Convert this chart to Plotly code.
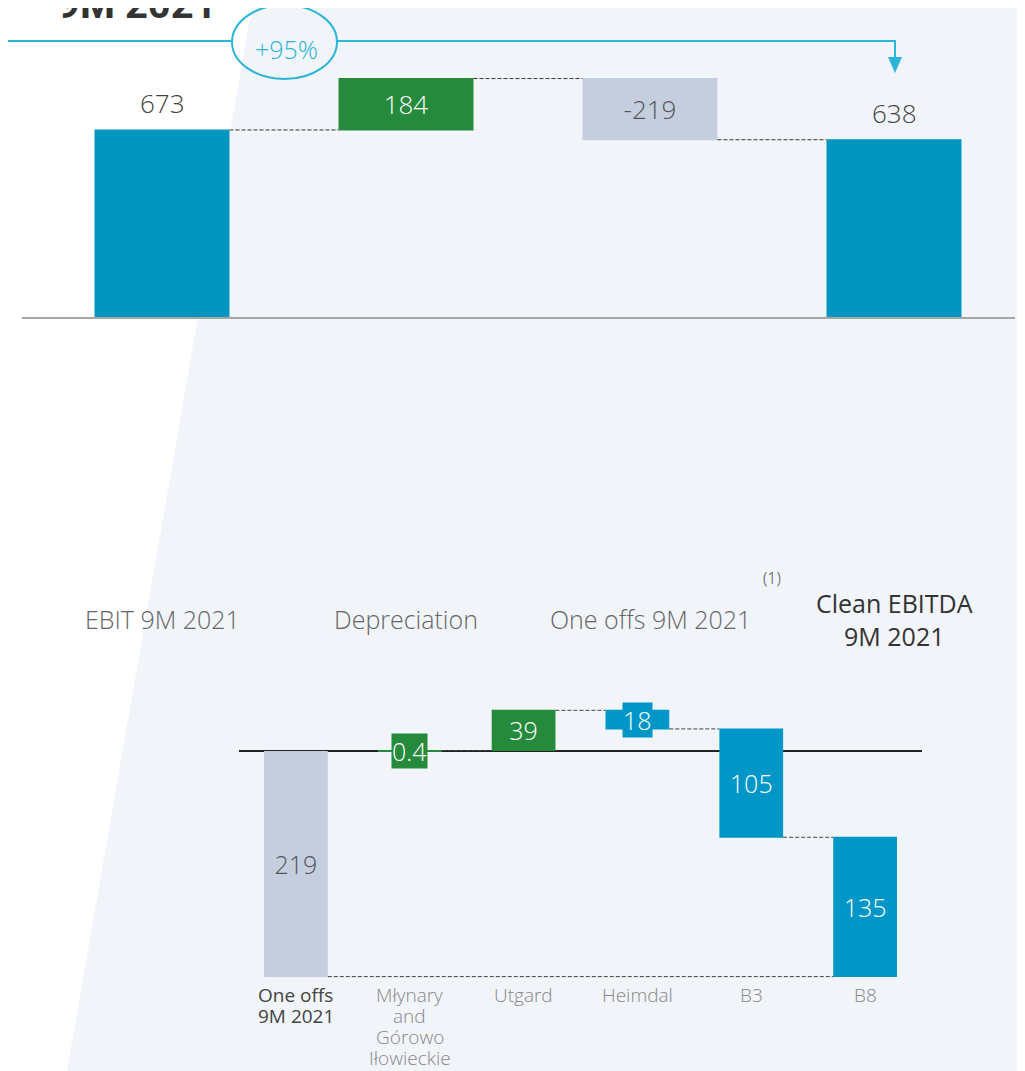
"""EBIT to clean EBITDA bridge (9M 2021) with one-offs breakdown, as two waterfalls."""
import plotly.graph_objects as go

W, H = 1025, 1071
OFF = 8  # page body margin around the plot div

# top bridge
top_categories = ["EBIT 9M 2021", "Depreciation", "One offs 9M 2021", "Clean EBITDA<br>9M 2021"]
top_measures = ["absolute", "relative", "relative", "total"]
top_values = [673, 184, -219, 638]
top_labels = ["673", "184", "-219", "638"]
growth_label = "+95%"

# one offs breakdown
bottom_categories = ["One offs<br>9M 2021", "Młynary<br>and<br>Górowo<br>Iłowieckie",
                     "Utgard", "Heimdal", "B3", "B8"]
bottom_values = [-219, 0.4, 39, -18, -105, -135]
bottom_labels = ["219", "0.4", "39", "18", "105", "135"]

BLUE = "#0096BF"
GREEN = "#268A3D"
GREY = "#C4CEDF"
CYAN = "#2BB5D9"
FONT = "Open Sans"
FW, FH = W - OFF, H - OFF


def px(p):
    return (p - OFF) / FW


def py(p):
    return 1 - (p - OFF) / FH


fig = go.Figure()

fig.add_trace(go.Waterfall(
    x=top_categories, y=top_values, measure=top_measures,
    text=top_labels,
    textposition=["none" if m != "relative" else "inside" for m in top_measures],
    textfont=dict(family=FONT, size=26, color=["#444", "white", "#555", "#444"], weight=300),
    insidetextanchor="middle",
    increasing=dict(marker=dict(color=GREEN)),
    decreasing=dict(marker=dict(color=GREY)),
    totals=dict(marker=dict(color=BLUE)),
    connector=dict(line=dict(color="#333", width=1, dash="4px,2px")),
    width=0.553, cliponaxis=False, hoverinfo="x+y",
    xaxis="x", yaxis="y",
))

# first bar of the breakdown is the total, the rest start again from zero
fig.add_trace(go.Bar(
    x=bottom_categories[:1], y=bottom_values[:1],
    text=bottom_labels[:1], textposition="inside", insidetextanchor="middle",
    textfont=dict(family=FONT, size=25, color="#555", weight=300),
    marker=dict(color=GREY, line=dict(width=0)),
    width=0.56, xaxis="x2", yaxis="y2",
))

small = [abs(v) < 25 for v in bottom_values[1:]]
fig.add_trace(go.Waterfall(
    x=bottom_categories[1:], y=bottom_values[1:],
    measure=["relative"] * (len(bottom_values) - 1), base=0,
    text=bottom_labels[1:],
    textposition=["none" if s else "inside" for s in small],
    textfont=dict(family=FONT, size=25, color="white", weight=300),
    insidetextanchor="middle",
    increasing=dict(marker=dict(color=GREEN)),
    decreasing=dict(marker=dict(color="#0096C7")),
    connector=dict(line=dict(color="#444", width=1, dash="4px,2px")),
    width=0.56, xaxis="x2", yaxis="y2",
))

annotations = []

# totals labelled above their bars
for cat, m, v, lab in zip(top_categories, top_measures, top_values, top_labels):
    if m != "relative":
        annotations.append(dict(
            x=cat, y=v, xref="x", yref="y", yanchor="middle", yshift=27, text=lab,
            showarrow=False, font=dict(family=FONT, size=26, color="#444", weight=300),
        ))

# label boxes for bars too thin to hold their value
level = 0
for cat, v, lab, s in zip(bottom_categories[1:], bottom_values[1:], bottom_labels[1:], small):
    if s:
        annotations.append(dict(
            x=cat, y=level + v / 2, xref="x2", yref="y2", text=lab, showarrow=False,
            font=dict(family=FONT, size=25, color="white", weight=300),
            bgcolor=GREEN if v > 0 else "#0096C7", borderpad=0,
        ))
    level += v

# category labels
for cat in top_categories:
    dark = cat.startswith("Clean")
    annotations.append(dict(
        x=cat, xref="x", y=py(619), yref="paper", yanchor="middle", text=cat,
        showarrow=False,
        font=dict(family=FONT, size=25, color="#333" if dark else "#666",
                  weight=400 if dark else 300),
    ))
annotations.append(dict(x=px(772), y=py(578), xref="paper", yref="paper", xanchor="center",
                        yanchor="middle", text="(1)", showarrow=False,
                        font=dict(family=FONT, size=16, color="#444", weight=300)))
for cat in bottom_categories:
    dark = cat.startswith("One")
    for i, line in enumerate(cat.split("<br>")):
        annotations.append(dict(
            x=cat, xref="x2", y=py(995 + 21 * i), yref="paper", yanchor="middle", text=line,
            showarrow=False,
            font=dict(family=FONT, size=19, color="#444" if dark else "#888",
                      weight=400 if dark else 300),
        ))

# title (cut off at top of the slide)
annotations.append(dict(x=px(55), y=py(30), xref="paper", yref="paper", xanchor="left",
                        yanchor="bottom", text="<b>9M 2021</b>", showarrow=False,
                        font=dict(family="Roboto", size=40, color="#333")))
annotations.append(dict(x=px(286), y=py(49), xref="paper", yref="paper", xanchor="center",
                        yanchor="middle", text=growth_label, showarrow=False,
                        font=dict(family=FONT, size=25, color=CYAN, weight=300)))

shapes = [
    # light background panel
    dict(type="path", xref="paper", yref="paper", layer="below",
         path=f"M {px(253)} {py(0)} L 1 {py(0)} L 1 0 L {px(67)} 0 Z",
         fillcolor="#F1F4F9", line=dict(width=0)),
    # top axis line
    dict(type="line", xref="paper", yref="paper", x0=px(22), x1=px(1015),
         y0=py(318), y1=py(318), line=dict(color="#A6A6A6", width=2)),
    # growth arrow
    dict(type="line", xref="paper", yref="paper", x0=px(0), x1=px(232), y0=py(41), y1=py(41),
         line=dict(color=CYAN, width=2)),
    dict(type="circle", xref="paper", yref="paper", x0=px(232), x1=px(337),
         y0=py(79), y1=py(5), line=dict(color=CYAN, width=2)),
    dict(type="path", xref="paper", yref="paper",
         path=f"M {px(337)} {py(41)} L {px(895)} {py(41)} L {px(895)} {py(58)}",
         line=dict(color=CYAN, width=2)),
    dict(type="path", xref="paper", yref="paper",
         path=f"M {px(888)} {py(57)} L {px(902)} {py(57)} L {px(895)} {py(73)} Z",
         fillcolor=CYAN, line=dict(width=0)),
    # one offs total to end of breakdown
    dict(type="line", xref="x2", yref="y2", x0=0.28, x1=len(bottom_values) - 1 - 0.28,
         y0=sum(bottom_values[1:]), y1=sum(bottom_values[1:]),
         line=dict(color="#444", width=1, dash="4px,2px")),
]

fig.update_layout(
    width=FW, height=FH, margin=dict(l=0, r=0, t=0, b=0),
    paper_bgcolor="white", plot_bgcolor="rgba(0,0,0,0)",
    showlegend=False, barmode="overlay", waterfallmode="overlay",
    font=dict(family=FONT),
    xaxis=dict(domain=[px(40), px(1016)], range=[-0.5, 3.5], showticklabels=False,
               showgrid=False, zeroline=False, categoryorder="array",
               categoryarray=top_categories, anchor="y"),
    yaxis=dict(domain=[py(318), 1], range=[0, (318 - OFF) / 0.2794], visible=False,
               showgrid=False, zeroline=False, anchor="x"),
    xaxis2=dict(domain=[px(239), px(922)], range=[-0.5, 5.5], showticklabels=False,
                showgrid=False, zeroline=False, categoryorder="array",
                categoryarray=bottom_categories, anchor="y2"),
    yaxis2=dict(domain=[0, py(680)], range=[-(H - 751) / 1.032, (751 - 680) / 1.032],
                showticklabels=False, showgrid=False, zeroline=True,
                zerolinecolor="#222", zerolinewidth=2, anchor="x2"),
    annotations=annotations, shapes=shapes,
)

fig.write_html("out.html")
